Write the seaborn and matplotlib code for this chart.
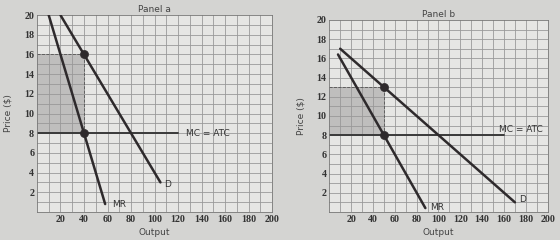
import matplotlib
matplotlib.use("Agg")
import matplotlib.pyplot as plt
import seaborn as sns
import pandas as pd
import numpy as np

sns.set_style("white")
plt.rcParams['font.family'] = ['DejaVu Sans']

# Panel a data
a_demand_q = [20, 105]
a_demand_p = [20, 3]
a_mr_q = [10, 58]
a_mr_p = [20, 0.8]
a_mc_q = [0, 120]
a_mc_p = [8, 8]
a_dots_q = [40, 40]
a_dots_p = [16, 8]
a_shade = (0, 40, 8, 16)

# Panel b data
b_demand_q = [10, 170]
b_demand_p = [17, 1]
b_mr_q = [8, 88]
b_mr_p = [16.4, 0.4]
b_mc_q = [0, 160]
b_mc_p = [8, 8]
b_dots_q = [50, 50]
b_dots_p = [13, 8]
b_shade = (0, 50, 8, 13)

x_ticks = [20, 40, 60, 80, 100, 120, 140, 160, 180, 200]
y_ticks = [2, 4, 6, 8, 10, 12, 14, 16, 18, 20]

fig = plt.figure(figsize=(5.6, 2.4), dpi=100)
fig.patch.set_facecolor('#d4d4d2')
ax_a = fig.add_axes([0.066, 0.117, 0.42, 0.82])
ax_b = fig.add_axes([0.588, 0.117, 0.39, 0.80])

line_col = '#2e2a2c'
serif = ['Liberation Serif', 'DejaVu Serif']

def draw(ax, dq, dp, mq, mp, cq, cp, oq, op, shade, title, mc_xy, mc_ha, d_xy, mr_xy):
    ax.set_facecolor('#e6e6e4')
    ax.set_xlim(0, 200)
    ax.set_ylim(0, 20)
    for x in range(10, 200, 10):
        ax.axvline(x, color='#9a9a9a', lw=0.6, zorder=0)
    for y in range(1, 20):
        ax.axhline(y, color='#9a9a9a', lw=0.6, zorder=0)
    x0, x1, y0, y1 = shade
    ax.fill_between([x0, x1], y0, y1, color='#9a9898', alpha=0.5, zorder=1, lw=0)
    ax.plot([x1, x1], [y0, y1], color='#555', lw=0.6, ls='--', zorder=1)
    ax.plot([x0, x1], [y1, y1], color='#555', lw=0.6, ls='--', zorder=1)
    sns.lineplot(x=dq, y=dp, ax=ax, color=line_col, lw=1.8, zorder=3)
    sns.lineplot(x=mq, y=mp, ax=ax, color=line_col, lw=1.8, zorder=3)
    sns.lineplot(x=cq, y=cp, ax=ax, color='#3a3a3a', lw=1.4, zorder=2)
    sns.scatterplot(x=oq, y=op, ax=ax, color=line_col, s=34, zorder=4, edgecolor=line_col)
    ax.text(mc_xy[0], mc_xy[1], 'MC = ATC', fontsize=6.5, color='#333', ha=mc_ha, va='center')
    ax.text(d_xy[0], d_xy[1], 'D', fontsize=6.5, color='#333', va='center')
    ax.text(mr_xy[0], mr_xy[1], 'MR', fontsize=6.5, color='#333', va='center')
    ax.set_xticks(x_ticks)
    ax.set_yticks(y_ticks)
    ax.set_xticklabels([str(t) for t in x_ticks], family=serif, fontweight='bold', fontsize=7.2, color='#333')
    ax.set_yticklabels([str(t) for t in y_ticks], family=serif, fontweight='bold', fontsize=7.2, color='#333')
    ax.tick_params(length=0, pad=2)
    ax.set_title(title, fontsize=6.5, color='#444', pad=2)
    ax.set_xlabel('Output', fontsize=6.5, color='#444', labelpad=3)
    ax.set_ylabel('Price ($)', fontsize=6.5, color='#444', labelpad=8)
    for s in ax.spines.values():
        s.set_color('#777')
        s.set_linewidth(0.6)

draw(ax_a, a_demand_q, a_demand_p, a_mr_q, a_mr_p, a_mc_q, a_mc_p, a_dots_q, a_dots_p,
     a_shade, 'Panel a', (127, 8), 'left', (108, 2.8), (64, 0.8))
draw(ax_b, b_demand_q, b_demand_p, b_mr_q, b_mr_p, b_mc_q, b_mc_p, b_dots_q, b_dots_p,
     b_shade, 'Panel b', (155, 8.6), 'left', (174, 1.3), (92, 0.5))

fig.savefig('out.png', dpi=100, facecolor=fig.get_facecolor())
